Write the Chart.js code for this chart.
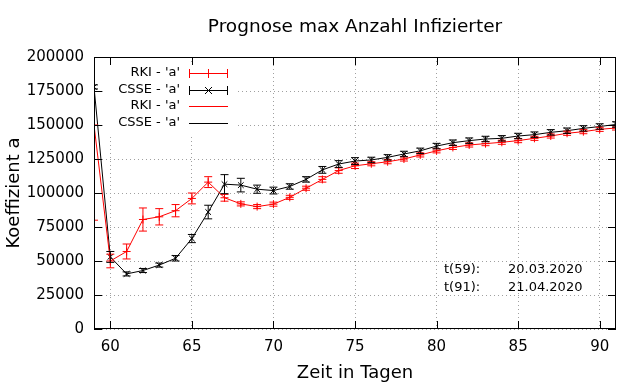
<!DOCTYPE html>
<html>
<head>
<meta charset="utf-8">
<script src="https://cdn.jsdelivr.net/npm/chart.js@4/dist/chart.umd.min.js"></script>
<style>
    html, body { margin: 0; padding: 0; background: #fff; }
    #rahmen { width: 640px; height: 384px; }
</style>
</head>
<body>
<div id="rahmen"><canvas id="prognose"></canvas></div>
<script>
'use strict';

/* ─────────────────────────────────────────────────────────────────────────────
   DATEN
───────────────────────────────────────────────────────────────────────────── */
const tage = [59, 60, 61, 62, 63, 64, 65, 66, 67, 68, 69, 70, 71, 72, 73, 74, 75,
              76, 77, 78, 79, 80, 81, 82, 83, 84, 85, 86, 87, 88, 89, 90, 91];

const rkiWerte = [150000, 50000, 57000, 80500, 82500, 87000, 96000, 108000, 96500,
                  92000, 90000, 91800, 96800, 103500, 110000, 116500, 120000, 121500,
                  123000, 125000, 128000, 131000, 133500, 135300, 136300, 137300,
                  138500, 140200, 141900, 143900, 145100, 146800, 147800];
const rkiFehler = [70000, 5000, 5500, 8500, 6000, 4500, 4000, 4000, 2500, 1500, 1500,
                   1500, 1500, 1500, 2000, 2000, 2000, 1500, 1500, 1500, 1500, 1500,
                   1500, 1500, 1500, 1500, 1500, 1500, 1500, 1500, 1500, 1500, 1500];

const csseWerte = [178000, 53000, 40500, 43000, 47000, 52000, 66500, 86000, 106500,
                   105800, 102800, 101800, 104800, 110000, 117000, 121300, 123500,
                   124300, 126200, 128700, 131000, 134500, 137000, 138500, 139700,
                   140200, 141900, 142900, 144600, 145800, 147500, 148900, 150400];
const csseFehler = [1500, 4000, 1500, 1500, 1500, 2000, 3000, 5000, 7000, 5000, 3000,
                    2500, 2000, 2000, 2500, 2500, 2500, 2000, 2000, 2000, 2000, 2000,
                    2000, 2000, 2000, 2000, 2000, 2000, 2000, 2000, 2000, 2000, 2000];

const xTicks = [60, 65, 70, 75, 80, 85, 90];
const yTicks = [0, 25000, 50000, 75000, 100000, 125000, 150000, 175000, 200000];

const legendeTexte = ["RKI - 'a'", "CSSE - 'a'", "RKI - 'a'", "CSSE - 'a'"];
const hinweise = [['t(59):', '20.03.2020'], ['t(91):', '21.04.2020']];

const ROT = '#ff0000';
const SCHWARZ = '#000000';

/* ─────────────────────────────────────────────────────────────────────────────
   PLUGIN: Fehlerbalken, Rahmen mit Innen-Ticks, Legende, Hinweise
───────────────────────────────────────────────────────────────────────────── */
function zeichneFehlerbalken(ctx, x, yOben, yUnten, farbe) {
    ctx.strokeStyle = farbe;
    ctx.lineWidth = 1;
    ctx.beginPath();
    ctx.moveTo(x, yOben);  ctx.lineTo(x, yUnten);
    ctx.moveTo(x - 4, yOben);  ctx.lineTo(x + 4, yOben);
    ctx.moveTo(x - 4, yUnten); ctx.lineTo(x + 4, yUnten);
    ctx.stroke();
}

const gnuplotStil = {
    id: 'gnuplotStil',

    beforeDatasetsDraw(chart) {
        const { ctx, chartArea } = chart;
        // weisser Hintergrund der Legende (verdeckt das Gitter)
        ctx.save();
        ctx.fillStyle = '#fff';
        ctx.fillRect(chartArea.left + 11, chartArea.top + 5, 131, 73);
        ctx.restore();
    },

    afterDatasetsDraw(chart) {
        const { ctx, chartArea, scales } = chart;
        ctx.save();
        ctx.beginPath();
        ctx.rect(chartArea.left, chartArea.top, chartArea.right - chartArea.left, chartArea.bottom - chartArea.top);
        ctx.clip();
        tage.forEach((t, i) => {
            const x = scales.x.getPixelForValue(t);
            zeichneFehlerbalken(ctx, x,
                scales.y.getPixelForValue(rkiWerte[i] + rkiFehler[i]),
                scales.y.getPixelForValue(rkiWerte[i] - rkiFehler[i]), ROT);
            zeichneFehlerbalken(ctx, x,
                scales.y.getPixelForValue(csseWerte[i] + csseFehler[i]),
                scales.y.getPixelForValue(csseWerte[i] - csseFehler[i]), SCHWARZ);
        });
        ctx.restore();
    },

    afterDraw(chart) {
        const { ctx, chartArea: a, scales } = chart;
        ctx.save();

        // Rahmen
        ctx.strokeStyle = SCHWARZ;
        ctx.lineWidth = 1;
        ctx.strokeRect(a.left + 0.5, a.top + 0.5, a.right - a.left - 1, a.bottom - a.top - 1);

        // Ticks nach innen, auf allen vier Seiten
        ctx.beginPath();
        xTicks.forEach(v => {
            const x = Math.round(scales.x.getPixelForValue(v)) + 0.5;
            ctx.moveTo(x, a.bottom); ctx.lineTo(x, a.bottom - 8);
            ctx.moveTo(x, a.top);    ctx.lineTo(x, a.top + 8);
        });
        yTicks.forEach(v => {
            const y = Math.round(scales.y.getPixelForValue(v)) + 0.5;
            ctx.moveTo(a.left, y);  ctx.lineTo(a.left + 8, y);
            ctx.moveTo(a.right, y); ctx.lineTo(a.right - 8, y);
        });
        ctx.stroke();

        // Legende
        ctx.font = '13px "DejaVu Sans"';
        ctx.textAlign = 'right';
        ctx.textBaseline = 'middle';
        ctx.fillStyle = SCHWARZ;
        const zeilen = [73, 90, 106, 123];
        const x0 = 189, x1 = 228, xm = (x0 + x1) / 2;
        legendeTexte.forEach((text, i) => {
            const y = zeilen[i];
            ctx.fillText(text, 180, y);
            const farbe = (i % 2 === 0) ? ROT : SCHWARZ;
            ctx.strokeStyle = farbe;
            ctx.lineWidth = 1;
            ctx.beginPath();
            ctx.moveTo(x0, y + 0.5); ctx.lineTo(x1, y + 0.5);
            if (i < 2) {
                ctx.moveTo(x0 + 0.5, y - 4); ctx.lineTo(x0 + 0.5, y + 5);
                ctx.moveTo(x1 - 0.5, y - 4); ctx.lineTo(x1 - 0.5, y + 5);
                if (i === 0) {
                    ctx.moveTo(xm, y - 4); ctx.lineTo(xm, y + 5);
                } else {
                    ctx.moveTo(xm - 3.5, y - 3); ctx.lineTo(xm + 3.5, y + 4);
                    ctx.moveTo(xm + 3.5, y - 3); ctx.lineTo(xm - 3.5, y + 4);
                }
            }
            ctx.stroke();
        });

        // Hinweise zu den Datumsangaben
        ctx.textAlign = 'left';
        ctx.font = '13px "DejaVu Sans"';
        hinweise.forEach(([links, rechts], i) => {
            const y = 270 + i * 18;
            ctx.fillText(links, 444, y);
            ctx.fillText(rechts, 508, y);
        });

        ctx.restore();
    }
};

/* ─────────────────────────────────────────────────────────────────────────────
   DIAGRAMM
───────────────────────────────────────────────────────────────────────────── */
Chart.defaults.font.family = '"DejaVu Sans"';
Chart.defaults.color = '#000';

const punkte = werte => tage.map((t, i) => ({ x: t, y: werte[i] }));

new Chart(document.getElementById('prognose'), {
    type: 'line',
    data: {
        datasets: [
            {
                label: "RKI - 'a'",
                data: punkte(rkiWerte),
                borderColor: ROT,
                backgroundColor: ROT,
                borderWidth: 1,
                pointStyle: 'cross',
                pointRadius: 4,
                pointBorderWidth: 1,
                tension: 0
            },
            {
                label: "CSSE - 'a'",
                data: punkte(csseWerte),
                borderColor: SCHWARZ,
                backgroundColor: SCHWARZ,
                borderWidth: 1,
                pointStyle: 'crossRot',
                pointRadius: 4,
                pointBorderWidth: 1,
                tension: 0
            }
        ]
    },
    options: {
        responsive: true,
        maintainAspectRatio: false,
        animation: false,
        devicePixelRatio: 1,
        layout: { padding: { left: 0, right: 24, top: 0, bottom: 0 } },
        plugins: {
            legend: { display: false },
            tooltip: { enabled: false },
            title: {
                display: true,
                fullSize: false,
                text: 'Prognose max Anzahl Infizierter',
                font: { size: 18.5, weight: 'normal' },
                padding: { top: 16, bottom: 18.8 }
            }
        },
        scales: {
            x: {
                type: 'linear',
                min: 59,
                max: 91,
                afterBuildTicks: s => { s.ticks = xTicks.map(v => ({ value: v })); },
                afterFit: s => { s.height = 55; },
                ticks: { font: { size: 15 }, padding: 9, maxRotation: 0 },
                grid: { color: '#a0a0a0', lineWidth: 1, drawTicks: false },
                border: { display: false, dash: [1, 3] },
                title: {
                    display: true,
                    text: 'Zeit in Tagen',
                    font: { size: 18 },
                    padding: { top: 0, bottom: 0 }
                }
            },
            y: {
                min: 0,
                max: 200000,
                afterBuildTicks: s => { s.ticks = yTicks.map(v => ({ value: v })); },
                afterFit: s => { s.width = 94; },
                ticks: { font: { size: 15 }, padding: 10, callback: v => String(v) },
                grid: { color: '#a0a0a0', lineWidth: 1, drawTicks: false },
                border: { display: false, dash: [1, 3] },
                title: {
                    display: true,
                    text: 'Koeffizient a',
                    font: { size: 18 },
                    padding: { top: 4, bottom: 0 }
                }
            }
        }
    },
    plugins: [gnuplotStil]
});
</script>
</body>
</html>
